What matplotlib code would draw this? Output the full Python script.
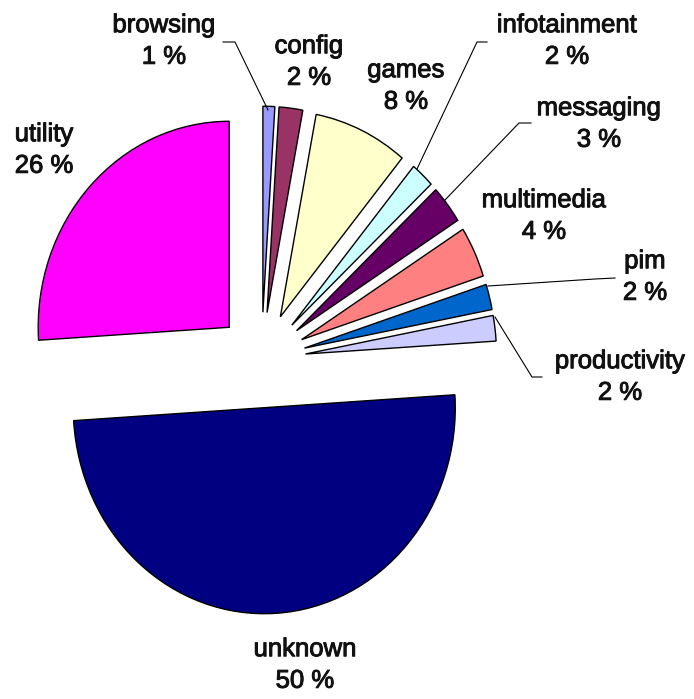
import matplotlib
matplotlib.use("Agg")
import matplotlib.pyplot as plt
import matplotlib.patheffects as pe

# app categories and their share (%)
categories = ["browsing", "config", "games", "infotainment", "messaging",
              "multimedia", "pim", "productivity", "unknown", "utility"]
shares = [1, 2, 8, 2, 3, 4, 2, 2, 50, 26]
colors = ["#9999FF", "#993366", "#FFFFCC", "#CCFFFF", "#660066",
          "#FF8080", "#0066CC", "#CCCCFF", "#000080", "#FF00FF"]

W, H = 694, 699
plt.rcParams["font.family"] = ["Liberation Sans", "DejaVu Sans"]

fig = plt.figure(figsize=(W / 100, H / 100), dpi=100)
ax = fig.add_axes([0, 0, 1, 1])

ax.pie(shares, colors=colors, startangle=90, counterclock=False,
       explode=[0.232] * len(shares),
       wedgeprops=dict(edgecolor="black", linewidth=1.0))
ax.set_aspect("auto")

# pixel scale of the pie (slightly taller than wide, as in the original)
cx, cy, sx, sy = 261.5, 360, 191, 206
ax.set_xlim(-cx / sx, (W - cx) / sx)
ax.set_ylim(-(H - cy) / sy, cy / sy)
ax.axis("off")

# label placement in pixels (centre of the two-line label)
label_pos = {
    "browsing": (164, 41), "config": (309, 62), "games": (406, 86),
    "infotainment": (567, 41), "messaging": (599, 124),
    "multimedia": (544, 216), "pim": (645, 277), "productivity": (620, 377),
    "unknown": (305, 665), "utility": (44, 150),
}
for cat, val in zip(categories, shares):
    px, py = label_pos[cat]
    fig.text(px / W, 1 - py / H, f"{cat}\n{val} %", ha="center", va="center",
             fontsize=18.5, linespacing=1.4, color="#111111",
             path_effects=[pe.withStroke(linewidth=0.7, foreground="#111111")])

# leader lines (pixels)
leaders = [
    [(268, 110), (235, 42), (223, 42)],
    [(417, 169), (477, 42), (487, 42)],
    [(445, 200), (519, 123), (531, 123)],
    [(488, 286), (595, 279), (615, 278)],
    [(495, 317), (532, 377), (542, 377)],
]
for pts in leaders:
    xs = [p[0] / W for p in pts]
    ys = [1 - p[1] / H for p in pts]
    fig.add_artist(plt.Line2D(xs, ys, color="black", linewidth=0.8))

fig.savefig("out.png", dpi=100)
